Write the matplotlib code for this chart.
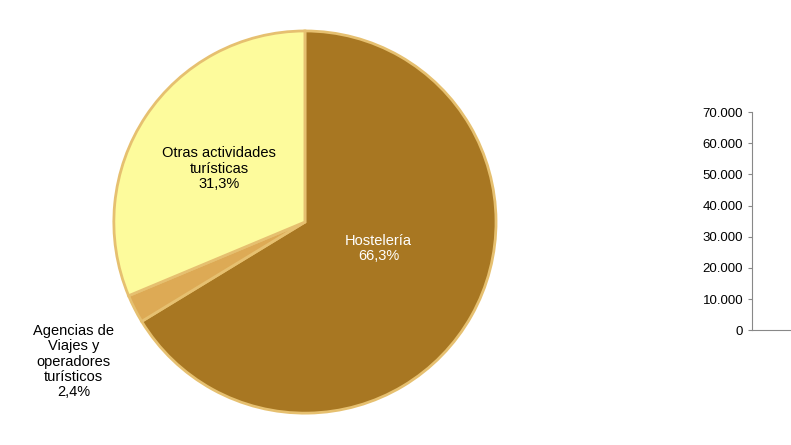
import matplotlib.pyplot as plt
import matplotlib.ticker as ticker

# Pie data (share of tourism employment by branch)
categories = ['Hostelería', 'Agencias de\nViajes y\noperadores\nturísticos', 'Otras actividades\nturísticas']
shares = [66.3, 2.4, 31.3]
colors = ['#A87722', '#DDAA55', '#FDFB9C']
labelColors = ['white', 'black', 'black']
# label anchor positions in pie units (relative to centre, radius 1)
labelPos = [(0.385, -0.14), (-1.21, -0.73), (-0.45, 0.28)]

# Right-hand (cut off) bar chart axis
yTicks = [0, 10000, 20000, 30000, 40000, 50000, 60000, 70000]

fig = plt.figure(figsize=(7.91, 4.45), dpi=100)
fig.patch.set_facecolor('white')

ax = fig.add_axes([0.139, 0.063, 0.493, 0.876])
ax.pie(shares, colors=colors, startangle=90, counterclock=False,
       wedgeprops=dict(edgecolor='#E6C070', linewidth=2))
for cat, val, col, pos in zip(categories, shares, labelColors, labelPos):
    txt = cat + '\n' + ('%.1f' % val).replace('.', ',') + '%'
    ax.text(pos[0], pos[1], txt, ha='center', va='center', color=col,
            fontsize=10.5, family='Liberation Sans', linespacing=1.1)
ax.set_xlim(-1.02, 1.02)
ax.set_ylim(-1.02, 1.02)

bx = fig.add_axes([0.951, 0.258, 0.2, 0.49])
bx.set_ylim(0, 70000)
bx.set_yticks(yTicks)
bx.yaxis.set_major_formatter(ticker.FuncFormatter(lambda v, p: '{:,.0f}'.format(v).replace(',', '.')))
bx.tick_params(axis='y', labelsize=9.5, length=3, color='#888888')
bx.set_xticks([])
for t in bx.get_yticklabels():
    t.set_family('Liberation Sans')
bx.spines['top'].set_visible(False)
bx.spines['right'].set_visible(False)
for s in ('left', 'bottom'):
    bx.spines[s].set_color('#888888')

fig.savefig('out.png', dpi=100)
